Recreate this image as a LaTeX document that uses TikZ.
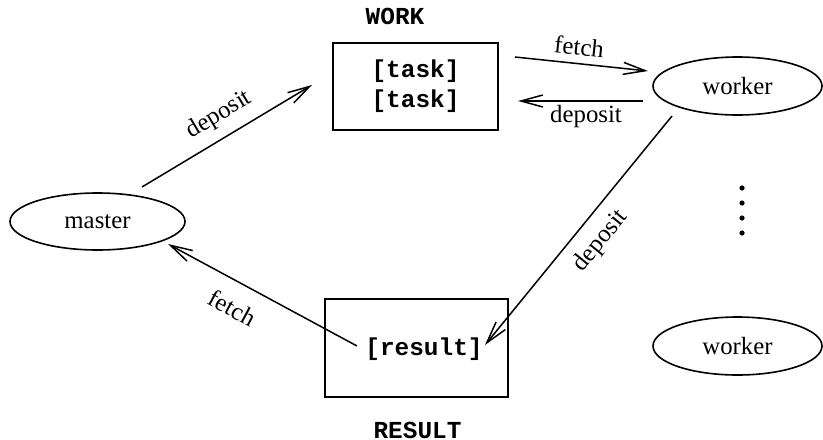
\documentclass[tikz,border=0pt]{standalone}
\usepackage{fontspec}
\setmainfont{Liberation Serif}
\setmonofont{Liberation Mono}
\usetikzlibrary{arrows.meta,shapes.geometric}
\tikzset{
  every node/.style={font=\fontsize{12.4}{14}\selectfont},
  proc/.style={draw, ellipse, line width=0.8pt, inner sep=0pt},
  space/.style={draw, rectangle, line width=0.8pt, inner sep=0pt},
  mono/.style={font=\fontsize{12.2}{15}\selectfont\ttfamily\bfseries},
  arr/.style={line width=0.75pt, -{Straight Barb[length=11pt,width=6pt,line width=0.75pt]}},
  lbl/.style={sloped, inner sep=2pt}
}
\begin{document}
\begin{tikzpicture}[x=0.5pt,y=-0.5pt]
\useasboundingbox (0,0) rectangle (823,439);
% nodes
\node[proc, minimum width=87.5pt, minimum height=28.5pt] (master) at (97.5,221.5) {master};
\node[proc, minimum width=84.5pt, minimum height=29pt] (worker1) at (737.5,86) {worker};
\node[proc, minimum width=84.5pt, minimum height=29pt] (worker2) at (737.5,346) {worker};
\node[space, minimum width=82.5pt, minimum height=43.5pt, mono, align=center] (workbox) at (415.5,86.5) {{[task]}\\{[task]}};
\node[space, minimum width=91.5pt, minimum height=49pt] (resultbox) at (416.5,348) {};
\node[mono, inner sep=0pt] (resulttxt) at (424,349) {{[result]}};
\node[mono, inner sep=0pt] (worklbl) at (395,16) {WORK};
\node[mono, inner sep=0pt] (resultlbl) at (417.5,430) {RESULT};
% dots
\foreach \yy in {188,203,218,233} \fill (742,\yy) circle (1.3pt);
% connectors
\draw[arr] ([shift={(44.5,-34.5)}]master.center) -- ([shift={(-103.5,-1.5)}]workbox.center)
  node[lbl, pos=0.52, above=3pt] (l1) {deposit};
\draw[arr] ([shift={(99.5,-29.5)}]workbox.center) -- ([shift={(-89.5,-15)}]worker1.center)
  node[lbl, pos=0.47, above=1.6pt] (l2) {fetch};
\draw[arr] ([shift={(-94.5,15)}]worker1.center) -- ([shift={(102.5,14.5)}]workbox.center)
  node[lbl, pos=0.456, below=0pt] (l3) {deposit};
\draw[arr] ([shift={(-65.5,30)}]worker1.center) -- ([shift={(61,-4)}]resulttxt.center)
  node[lbl, pos=0.48, below=4pt] (l4) {deposit};
\draw[arr] ([shift={(-67,-3)}]resulttxt.center) -- ([shift={(70.5,22.5)}]master.center)
  node[lbl, pos=0.594, below=6pt] (l5) {fetch};
\end{tikzpicture}
\end{document}
